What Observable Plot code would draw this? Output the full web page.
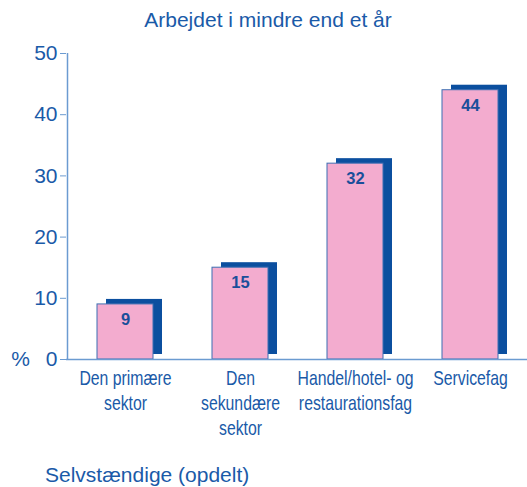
<!DOCTYPE html>
<html>
<head>
<meta charset="utf-8">
<script src="https://cdn.jsdelivr.net/npm/d3@7"></script>
<script src="https://cdn.jsdelivr.net/npm/@observablehq/plot@0.6"></script>
<style>
  body { margin: 0; background: #fff; width: 527px; overflow: hidden; }
  #title { height: 40px; line-height: 40px; text-align: center; padding-left: 9px; box-sizing: border-box;
           font-family: "Liberation Sans", Arial, sans-serif; font-size: 21px; color: #1a5aa8; }
  #caption { height: 37px; padding-top: 14px; padding-left: 45px; box-sizing: border-box; line-height: 21px;
             font-family: "Liberation Sans", Arial, sans-serif; font-size: 21px; color: #1a5aa8; }
  svg { display: block; }
</style>
</head>
<body>
<div id="title">Arbejdet i mindre end et år</div>
<div id="chart"></div>
<div id="caption">Selvstændige (opdelt)</div>
<script>
const categories = ["Den primære\nsektor", "Den\nsekundære\nsektor", "Handel/hotel- og\nrestaurationsfag", "Servicefag"];
const values = [9, 15, 32, 44];
const yTicks = [0, 10, 20, 30, 40, 50];

const data = categories.map((c, i) => ({category: c, value: values[i]}));

const textBlue = "#1a5aa8";
const axisBlue = "#6b9bd1";
const darkBlue = "#0b4f9f";
const pink = "#f3accf";

const chart = Plot.plot({
  width: 527,
  height: 410,
  marginTop: 13,
  marginBottom: 91,
  marginLeft: 66,
  marginRight: 0,
  style: {background: "transparent", overflow: "visible"},
  x: {domain: categories, range: [66, 529], paddingInner: 0.516, paddingOuter: 0.26, axis: null},
  y: {domain: [0, 50], axis: null},
  marks: [
    Plot.barY(data, {x: "category", y: "value", fill: darkBlue, dx: 9, dy: -5}),
    Plot.barY(data, {x: "category", y: "value", fill: pink, stroke: "#3d6fb3", strokeWidth: 1}),
    Plot.text(data, {x: "category", y: "value", text: d => String(d.value), dy: 15,
      fill: "#1a4f9a", fontWeight: "bold", fontSize: 16.5, fontFamily: "Liberation Sans, Arial, sans-serif"}),
    Plot.ruleY([0], {stroke: axisBlue, strokeWidth: 1.5}),
    Plot.ruleX([categories[0]], {x: () => categories[0], dx: -58, y1: 0, y2: 50, stroke: axisBlue, strokeWidth: 1.5}),
    Plot.axisY({ticks: yTicks, tickSize: 6, tickPadding: 3, stroke: axisBlue, fill: textBlue,
      fontSize: 21, fontFamily: "Liberation Sans, Arial, sans-serif", label: null}),
    Plot.axisX({tickSize: 0, tickPadding: 8, fill: textBlue, fontSize: 20, lineHeight: 1.25,
      fontFamily: "Liberation Sans, Arial, sans-serif", label: null}),
    Plot.text(["%"], {frameAnchor: "bottom-left", dx: -46, textAnchor: "middle", lineAnchor: "middle",
      fill: textBlue, fontSize: 21, fontFamily: "Liberation Sans, Arial, sans-serif"})
  ]
});
// Condense the category labels horizontally (the original uses a narrow typeface)
d3.select(chart).selectAll('g[aria-label="x-axis tick label"] text').each(function() {
  const t = this.getAttribute("transform") || "";
  this.setAttribute("transform", t + " scale(0.79,1)");
});
document.getElementById("chart").appendChild(chart);
</script>
</body>
</html>
